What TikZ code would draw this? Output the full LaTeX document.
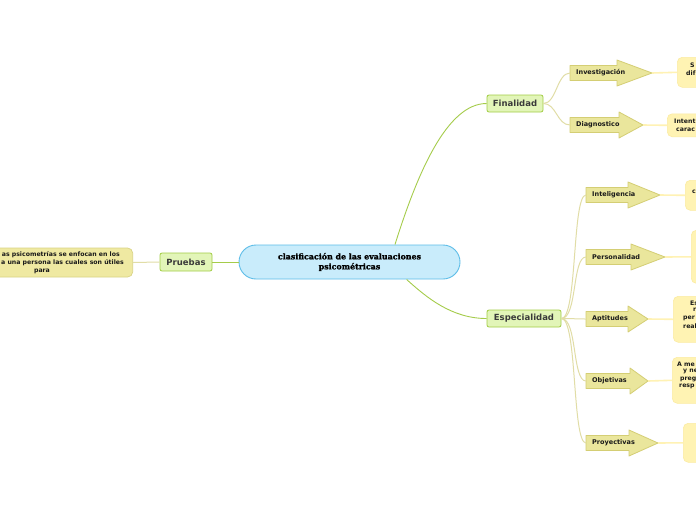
\documentclass[tikz,border=0pt]{standalone}
\usepackage{fontspec}
\newfontfamily\lblfont{DejaVu Sans}
\newfontfamily\ctrfont{DejaVu Serif}[BoldFeatures={FakeBold=1.2}]
\definecolor{ctrF}{HTML}{C9ECFB}
\definecolor{ctrB}{HTML}{5DBDE8}
\definecolor{grnF}{HTML}{E2F5B8}
\definecolor{grnB}{HTML}{A2CD44}
\definecolor{grnL}{HTML}{A5CC4A}
\definecolor{txtG}{HTML}{3A3A3A}
\definecolor{arrF}{HTML}{EAE69C}
\definecolor{arrB}{HTML}{D4CE74}
\definecolor{lboxF}{HTML}{EFE9A2}
\definecolor{lboxB}{HTML}{D9D385}
\definecolor{ybF}{HTML}{FFF3B3}
\definecolor{ybB}{HTML}{FBEBA3}
\definecolor{khL}{HTML}{E1DDA6}
\definecolor{yL}{HTML}{FFF2B4}
\newcommand\arrw[6]{%
  \draw[arrowst] (#2,#3-7.5) -- (#4,#3-7.5) -- (#4,#3-13) -- (#5,#3) -- (#4,#3+13) -- (#4,#3+7.5) -- (#2,#3+7.5) -- cycle;
  \node[albl] (#1) at (#2+6,#3) {#6};
  \coordinate (#1tip) at (#5,#3);
  \coordinate (#1tail) at (#2,#3);}
\begin{document}
\begin{tikzpicture}[x=1pt,y=-1pt,
  greenbox/.style={draw=grnB, fill=grnF, line width=0.8pt, rounded corners=2pt,
    font=\lblfont\bfseries\fontsize{8.5}{10}\selectfont, text=txtG, inner sep=0pt, minimum height=17pt},
  arrowst/.style={draw=arrB, fill=arrF, line width=0.8pt, line join=round},
  albl/.style={font=\lblfont\bfseries\fontsize{6.5}{7.5}\selectfont, text=black!90, anchor=west, inner sep=0pt},
  rbox/.style={fill=ybF, draw=ybB, line width=0.6pt, rounded corners=5pt, inner sep=0pt, anchor=north west, minimum width=80pt},
  frag/.style={font=\lblfont\bfseries\fontsize{6.2}{7}\selectfont, text=black!90, anchor=west, inner sep=0pt},
  gline/.style={draw=grnL, line width=0.9pt},
  kline/.style={draw=khL, line width=1pt},
  yline/.style={draw=yL, line width=1.6pt}]
\useasboundingbox (0,0) rectangle (696,520);
\clip (0,0) rectangle (696,520);
\fill[white] (0,0) rectangle (696,520);

% central
\node[draw=ctrB, fill=ctrF, line width=0.9pt, rounded corners=17pt, minimum width=221pt, minimum height=34pt,
  inner sep=0pt, align=center, font=\ctrfont\bfseries\fontsize{7.9}{10}\selectfont] (ctr) at (349.5,262)
  {clasificación de las evaluaciones\\psicométricas};

% green nodes
\node[greenbox, minimum width=52pt, minimum height=18pt] (pru) at (186,262) {Pruebas};
\node[greenbox, minimum width=56pt] (fin) at (515,103.5) {Finalidad};
\node[greenbox, minimum width=74pt] (esp) at (524,318.5) {Especialidad};

\draw[gline] (ctr.west) -- (pru.east);
\draw[gline] (ctr.21) .. controls +(22,-70) and +(-40,0) .. (fin.west);
\draw[gline] (ctr.-17) .. controls +(20,18) and +(-35,0) .. (esp.west);

% left box
\node[draw=lboxB, fill=lboxF, line width=0.7pt, rounded corners=5pt, minimum width=200pt, minimum height=29pt,
  inner sep=0pt, anchor=east] (lbox) at (133,262.5) {};
\draw[kline] (pru.west) -- (lbox.east);
\node[frag, anchor=east] (l1) at (120,255) {as psicometrías se enfocan en los};
\node[frag, anchor=east] (l2) at (124,263) {a una persona las cuales son útiles};
\node[frag, anchor=center] (l3) at (42,271) {para};

% Finalidad branch
\arrw{inv}{570}{73}{617}{652}{Investigación}
\arrw{dia}{570}{125}{619}{643}{Diagnostico}
\draw[kline] (fin.east) .. controls +(13,0) and +(-13,0) .. (invtail);
\draw[kline] (fin.east) .. controls +(13,0) and +(-13,0) .. (diatail);
\node[rbox, minimum height=30pt] (invbox) at (677,57) {};
\node[rbox, minimum height=23pt] (diabox) at (667,113.5) {};
\draw[yline] (invtip) -- (invbox.west);
\draw[yline] (diatip) -- (diabox.west);
\node[frag] (f1) at (690,65) {S};
\node[frag] (f2) at (686,73) {dif};
\node[frag] (f3) at (674,121) {Intent};
\node[frag] (f4) at (676,130) {carac};

% Especialidad branch
\arrw{int}{586}{195}{628}{660}{Inteligencia}
\arrw{per}{586}{257}{631}{665}{Personalidad}
\arrw{apt}{586}{319}{628}{648}{Aptitudes}
\arrw{obj}{586}{381}{630}{648}{Objetivas}
\arrw{pro}{586}{443}{629}{658}{Proyectivas}
\foreach \n in {int,per,apt,obj,pro}
  \draw[kline] (esp.east) .. controls +(16,0) and +(-14,0) .. (\n tail);
\node[rbox, minimum height=30pt] (intbox) at (685,180) {};
\node[rbox, minimum height=53pt] (perbox) at (691,230) {};
\node[rbox, minimum height=46pt] (aptbox) at (673,296) {};
\node[rbox, minimum height=46pt] (objbox) at (672,357) {};
\node[rbox, minimum height=39pt] (probox) at (683,423) {};
\foreach \n in {int,per,apt,obj,pro}
  \draw[yline] (\n tip) -- (\n box.west);
\node[frag] (i1) at (692,192) {c};
\node[frag] (a1) at (690,303) {Es};
\node[frag] (a2) at (693,310) {ra};
\node[frag] (a3) at (683,318) {per};
\node[frag] (a4) at (683,326) {real};
\node[frag] (o1) at (677,364) {A me};
\node[frag] (o2) at (683,371) {y ne};
\node[frag] (o3) at (680,379) {preg};
\node[frag] (o4) at (679,386) {resp};
\end{tikzpicture}
\end{document}
